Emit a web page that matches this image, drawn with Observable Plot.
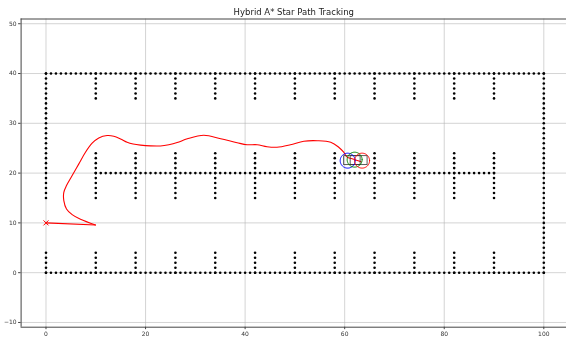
<!DOCTYPE html>
<html><head><meta charset="utf-8">
<script src="https://cdn.jsdelivr.net/npm/d3@7"></script>
<script src="https://cdn.jsdelivr.net/npm/@observablehq/plot@0.6"></script>
<style>
html,body{margin:0;padding:0;background:#fff;overflow:hidden}
#chart{will-change:transform}
#chart svg text{opacity:0.999}
</style></head><body><div id="chart"></div>
<script>
const title = "Hybrid A* Star Path Tracking";
const xTicks = [0, 20, 40, 60, 80, 100];
const yTicks = [-10, 0, 10, 20, 30, 40, 50];

// Parking-lot obstacle map, sampled every 1 m
// horizontal walls: [xStart, xEnd, y]
const hWalls = [[0, 100, 0], [0, 100, 40], [10, 90, 20]];
// vertical walls: [x, yStart, yEnd]
const vWalls = [[0, 0, 4], [0, 15, 40], [100, 0, 40]];
// stall dividers
const stallX = [10, 18, 26, 34, 42, 50, 58, 66, 74, 82, 90];
const stallBottom = [0, 4];
const stallMid = [15, 24];
const stallTop = [35, 40];

// Tracked path: straight reverse leg, then the forward leg after the cusp
const reverseX = [0, 9.94];
const reverseY = [10, 9.59];
const forwardX = [9.94, 6.93, 5.26, 4.12, 3.58, 3.58, 4.12, 5.26, 6.6, 7.93, 9.27, 10.6, 12.29, 13.62, 14.97, 16.3, 17.5, 19.0, 21.0, 23.0, 24.67, 26.35, 28.4, 31.7, 35.1, 38.4, 40.4, 42.4, 44.4, 46.4, 49.1, 51.8, 54.5, 57.2, 58.8, 59.8, 60.5, 61.5, 63.3];
const forwardY = [9.59, 10.72, 11.66, 12.8, 14.47, 16.14, 17.49, 19.5, 21.85, 24.18, 26.0, 27.07, 27.54, 27.4, 26.87, 26.2, 25.85, 25.62, 25.46, 25.45, 25.7, 26.13, 26.9, 27.6, 26.9, 26.1, 25.7, 25.7, 25.3, 25.2, 25.7, 26.4, 26.5, 26.2, 25.2, 24.2, 23.2, 22.9, 22.3];
const start = [0, 10];

// Vehicle: collision circles and body outlines
const circleX = [60.6, 62.0, 63.5];
const circleY = [22.5, 22.7, 22.5];
const circleR = 1.5;
const circleColors = ["blue", "green", "red"];
const bodyBoxes = [[59.9, 63.2, 21.6, 23.4], [61.2, 64.6, 21.6, 23.4]];

const xDomain = [-5, 104.56];
const yDomain = [-10.95, 50.95];

const obstacles = [];
for (const [x0, x1, y] of hWalls) for (let x = x0; x <= x1; x++) obstacles.push({x, y});
for (const [x, y0, y1] of vWalls) for (let y = y0; y <= y1; y++) obstacles.push({x, y});
for (const x of stallX)
  for (const [y0, y1] of [stallBottom, stallMid, stallTop])
    for (let y = y0; y <= y1; y++) obstacles.push({x, y});

const reverseLeg = reverseX.map((x, i) => ({x, y: reverseY[i]}));
const forwardLeg = forwardX.map((x, i) => ({x, y: forwardY[i]}));

const circleMarks = circleX.map((cx, i) => {
  const pts = d3.range(0, 361, 5).map(a => ({
    x: cx + circleR * Math.cos(a * Math.PI / 180),
    y: circleY[i] + circleR * Math.sin(a * Math.PI / 180)
  }));
  return Plot.line(pts, {x: "x", y: "y", stroke: circleColors[i], strokeWidth: 1});
});

const chart = Plot.plot({
  width: 566,
  height: 337,
  marginLeft: 20.6,
  marginRight: 0,
  marginTop: 18.5,
  marginBottom: 10.3,
  style: {fontFamily: "DejaVu Sans", fontSize: "6px", background: "#fff", color: "#333"},
  x: {domain: xDomain, ticks: xTicks, label: null},
  y: {domain: yDomain, ticks: yTicks, label: null},
  marks: [
    Plot.gridX(xTicks, {stroke: "#b0b0b0", strokeOpacity: 0.55, strokeWidth: 1}),
    Plot.gridY(yTicks, {stroke: "#b0b0b0", strokeOpacity: 0.55, strokeWidth: 1}),
    Plot.dot(obstacles, {x: "x", y: "y", r: 1.3, fill: "black"}),
    Plot.line(reverseLeg, {x: "x", y: "y", stroke: "red", strokeWidth: 1.1}),
    Plot.line(forwardLeg, {x: "x", y: "y", stroke: "red", strokeWidth: 1.1, curve: "catmull-rom"}),
    Plot.rect(bodyBoxes, {x1: d => d[0], x2: d => d[1], y1: d => d[2], y2: d => d[3], fill: "none", stroke: "#333", strokeWidth: 0.8}),
    ...circleMarks,
    Plot.dot([start], {x: d => d[0], y: d => d[1], symbol: "times", r: 2.4, stroke: "red", strokeWidth: 1}),
    Plot.ruleX([xDomain[0]], {stroke: "#444", strokeWidth: 1}),
    Plot.ruleY(yDomain, {stroke: "#444", strokeWidth: 1}),
    Plot.axisX(xTicks, {tickSize: 2.5, tickPadding: 2, stroke: "#444", fill: "#333"}),
    Plot.axisY(yTicks, {tickSize: 2.5, tickPadding: 2, stroke: "#444", fill: "#333"}),
    Plot.text([title], {frameAnchor: "top", lineAnchor: "middle", dy: -6.5, fontSize: 8.5, fill: "#222"})
  ]
});
document.getElementById("chart").appendChild(chart);
</script></body></html>
